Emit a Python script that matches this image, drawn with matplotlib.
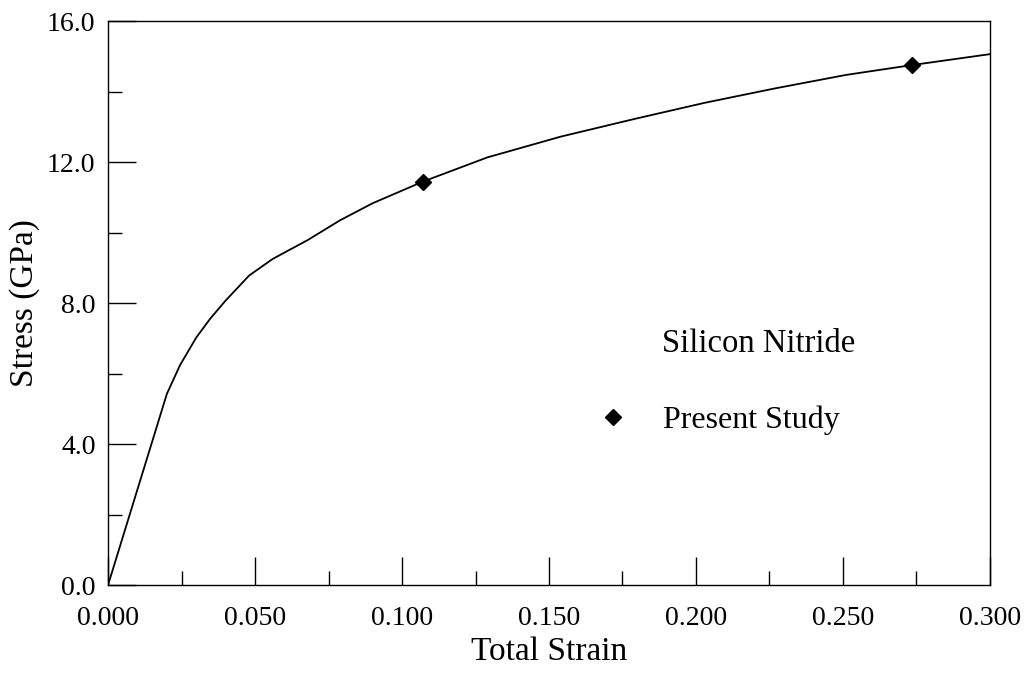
import numpy as np
import matplotlib
matplotlib.use("Agg")
import matplotlib.pyplot as plt
from matplotlib.ticker import MultipleLocator, FormatStrFormatter

plt.rcParams['font.family'] = ['Liberation Serif', 'DejaVu Serif']

# stress-strain curve for silicon nitride
strain = [0.0, 0.020, 0.0245, 0.030, 0.0347, 0.040, 0.048, 0.056, 0.068,
          0.079, 0.090, 0.107, 0.129, 0.154, 0.179, 0.203, 0.227, 0.251,
          0.2735, 0.300]
stress = [0.0, 5.42, 6.24, 7.02, 7.55, 8.07, 8.78, 9.25, 9.79,
          10.35, 10.83, 11.44, 12.13, 12.72, 13.22, 13.68, 14.09, 14.47,
          14.75, 15.06]

# present study points
study_strain = [0.107, 0.2735]
study_stress = [11.44, 14.75]

fig = plt.figure(figsize=(10.28, 6.82), dpi=100)
ax = fig.add_axes([0.1051, 0.1422, 0.8579, 0.8270])

ax.plot(strain, stress, color='black', lw=1.3)
ax.plot(study_strain, study_stress, ls='none', marker='D', ms=8,
        color='black', label='Present Study')

ax.set_xlim(0, 0.3)
ax.set_ylim(0, 16)
ax.xaxis.set_major_locator(MultipleLocator(0.05))
ax.xaxis.set_minor_locator(MultipleLocator(0.025))
ax.yaxis.set_major_locator(MultipleLocator(4))
ax.yaxis.set_minor_locator(MultipleLocator(2))
ax.xaxis.set_major_formatter(FormatStrFormatter('%.3f'))
ax.yaxis.set_major_formatter(FormatStrFormatter('%.1f'))

ax.tick_params(which='both', direction='in', top=False, right=False,
               labelsize=20, width=1.0, color='black')
ax.tick_params(which='major', length=20)
ax.tick_params(which='minor', length=10)
ax.tick_params(axis='x', pad=15)
ax.tick_params(axis='y', pad=9)

for s in ax.spines.values():
    s.set_linewidth(1.0)

ax.set_xlabel('Total Strain', fontsize=24, labelpad=4)
ax.set_ylabel('Stress (GPa)', fontsize=24, labelpad=5)

ax.text(0.628, 0.427, 'Silicon Nitride', transform=ax.transAxes,
        fontsize=23.5, va='center', ha='left')
ax.legend(loc='center left', bbox_to_anchor=(0.5544, 0.2925),
          frameon=False, fontsize=23, numpoints=1, handlelength=1.0,
          handletextpad=1.06, borderpad=0, borderaxespad=0)

fig.savefig('out.png', dpi=100)
